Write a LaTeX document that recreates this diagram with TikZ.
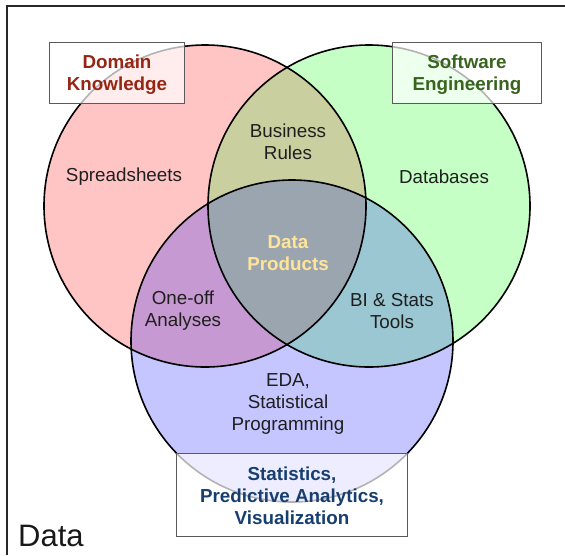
\documentclass[tikz,border=0pt]{standalone}
\usepackage{fontspec}
\setmainfont{Liberation Sans}
\definecolor{pinkfill}{RGB}{255,197,197}
\definecolor{greenfill}{RGB}{197,255,197}
\definecolor{bluefill}{RGB}{197,197,255}
\definecolor{olivefill}{RGB}{201,207,158}
\definecolor{purplefill}{RGB}{199,153,210}
\definecolor{tealfill}{RGB}{154,199,210}
\definecolor{centerfill}{RGB}{155,165,176}
\definecolor{domaincol}{RGB}{150,38,20}
\definecolor{softcol}{RGB}{56,100,30}
\definecolor{statcol}{RGB}{22,62,112}
\definecolor{prodcol}{RGB}{255,229,153}
\definecolor{boxline}{RGB}{90,90,90}
\definecolor{framecol}{RGB}{40,40,40}
\begin{document}
\begin{tikzpicture}[x=1pt,y=-1pt,
  lbl/.style={font=\fontsize{18.8}{22}\selectfont, align=center, inner sep=0pt, text=black!88},
  blbl/.style={font=\fontsize{18.8}{22}\selectfont\bfseries, align=center, inner sep=0pt},
  labelbox/.style={draw=boxline, line width=1pt, fill=white, fill opacity=0.7, text opacity=1},
  circline/.style={draw=black, line width=1.6pt},
  framestyle/.style={draw=framecol, line width=1.8pt}]
\useasboundingbox (0,0) rectangle (565,555);
% fills
\fill[pinkfill] (205,206) circle[radius=161pt];
\fill[greenfill] (369,206) circle[radius=161pt];
\fill[bluefill] (292,341) circle[radius=161pt];
\begin{scope}
  \clip (205,206) circle[radius=161pt];
  \fill[olivefill] (369,206) circle[radius=161pt];
  \fill[purplefill] (292,341) circle[radius=161pt];
\end{scope}
\begin{scope}
  \clip (369,206) circle[radius=161pt];
  \fill[tealfill] (292,341) circle[radius=161pt];
\end{scope}
\begin{scope}
  \clip (205,206) circle[radius=161pt];
  \clip (369,206) circle[radius=161pt];
  \fill[centerfill] (292,341) circle[radius=161pt];
\end{scope}
% outlines
\draw[circline] (205,206) circle[radius=161pt];
\draw[circline] (369,206) circle[radius=161pt];
\draw[circline] (292,341) circle[radius=161pt];
% frame
\draw[framestyle] (7,555) -- (7,6) -- (565,6);
% region labels
\node[lbl] (spread) at (124,177) {Spreadsheets};
\node[lbl] (dbs) at (444,177) {Databases};
\node[lbl] (rules) at (288,141.5) {Business\\Rules};
\node[blbl, text=prodcol] (prod) at (288,253) {Data\\Products};
\node[lbl] (oneoff) at (183,311) {One-off\\Analyses};
\node[lbl] (bi) at (392,311) {BI \& Stats\\Tools};
\node[lbl] (eda) at (288,404) {EDA,\\Statistical\\Programming};
% title boxes
\node[labelbox, minimum width=135pt, minimum height=61pt] (dkbox) at (116.5,72.5) {};
\node[blbl, text=domaincol] (dk) at (117,74.5) {Domain\\Knowledge};
\node[labelbox, minimum width=149pt, minimum height=61pt] (sebox) at (466.5,72.5) {};
\node[blbl, text=softcol] (se) at (467,74.5) {Software\\Engineering};
\node[labelbox, minimum width=231pt, minimum height=83pt] (stbox) at (291.5,494.5) {};
\node[blbl, text=statcol] (st) at (292,495.5) {Statistics,\\Predictive Analytics,\\Visualization};
% corner label
\node[font=\fontsize{31}{36}\selectfont, inner sep=0pt, anchor=base west, text=black!90] (data) at (18,546) {Data};
\end{tikzpicture}
\end{document}
